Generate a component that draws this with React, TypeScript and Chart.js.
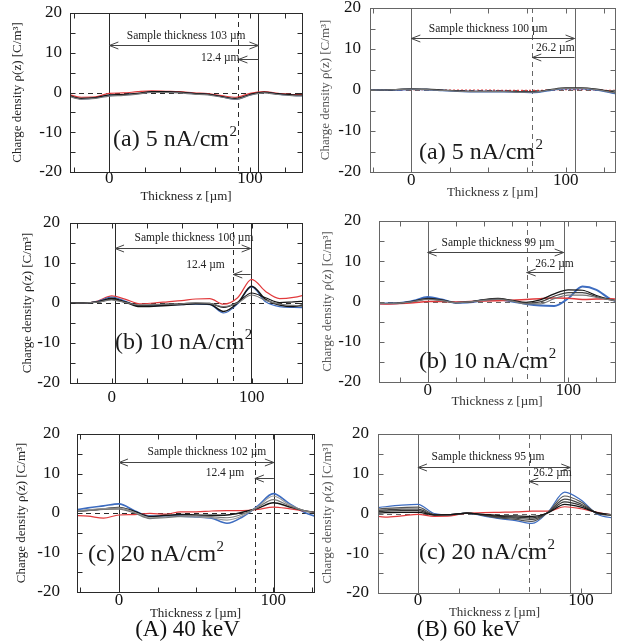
import React, { useEffect, useRef } from "react";
import { Chart, registerables } from "chart.js";
Chart.register(...registerables);

const W = 622;
const H = 643;
const SERIF = '"Liberation Serif", "DejaVu Serif", "Times New Roman", serif';

// ---------- data ----------
const yTickValues = [-20, -10, 0, 10, 20];
const xTickValues = [0, 100];

// (A) 40 keV, (a) 5 nA/cm2
const aaX = [-30, -20, -10, 0, 10, 20, 30, 40, 50, 60, 70, 80, 90, 100, 110, 120, 130, 140];
const aaGray = [-0.8, -1.7, -1.5, -0.9, -0.7, -0.4, 0.0, 0.0, -0.1, -0.4, -0.6, -1.2, -1.7, -0.7, -0.1, -0.5, -0.8, -0.9];
const aaBlack = [-0.6, -1.5, -1.3, -0.6, -0.5, -0.2, 0.2, 0.2, 0.1, -0.2, -0.4, -1.0, -1.5, -0.5, 0.1, -0.3, -0.6, -0.7];
const aaBlue = [-0.7, -1.6, -1.4, -0.7, -0.6, -0.3, 0.1, 0.1, 0.0, -0.3, -0.5, -1.1, -1.7, -0.6, 0.0, -0.4, -0.7, -0.8];
const aaRed = [-0.4, -1.2, -1.1, -0.2, -0.1, 0.2, 0.4, 0.3, 0.2, -0.1, -0.3, -0.8, -1.2, -0.2, 0.2, -0.2, -0.5, -0.5];

// (B) 60 keV, (a) 5 nA/cm2
const baX = [-30, -20, -10, 0, 10, 20, 30, 40, 50, 60, 70, 80, 90, 100, 110, 120, 130, 140];
const baGray = [0, 0, 0.1, 0.2, 0.1, -0.1, -0.3, -0.4, -0.4, -0.4, -0.5, -0.5, 0, 0.4, 0.4, 0.1, -0.6, -1.1];
const baBlack = [0, 0, 0.1, 0.3, 0.2, 0, -0.2, -0.3, -0.3, -0.3, -0.4, -0.4, 0.1, 0.5, 0.5, 0.2, -0.4, -0.9];
const baBlue = [0, 0, 0, 0.2, 0.1, -0.1, -0.3, -0.4, -0.4, -0.4, -0.5, -0.6, -0.1, 0.3, 0.3, 0, -0.7, -1.2];
const baRed = [0, 0, 0, 0.1, 0.1, 0, 0, 0, 0, -0.1, -0.1, -0.1, 0, 0.1, 0.1, 0, -0.1, -0.1];

// (A) 40 keV, (b) 10 nA/cm2
const abX = [-40, -30, -20, -10, 0, 10, 20, 30, 40, 50, 60, 70, 80, 90, 100, 110, 120, 130, 140];
const abGray = [0, 0, 0, 0.2, 0.8, 0.1, -0.5, -0.4, -0.3, -0.2, 0, -0.1, -0.9, 0, 2.0, 0.7, -0.3, -0.6, -1.0];
const abBlack2 = [0, 0, 0, 0.2, 0.9, 0.2, -0.6, -0.5, -0.3, -0.2, 0, -0.1, -1.1, 0.2, 2.5, 1.3, 0.1, 0.3, 0.5];
const abBlack1 = [0, 0, 0, 0.3, 1.2, 0.2, -0.9, -0.8, -0.6, -0.4, -0.2, -0.3, -2.1, 0, 4.2, 0.9, -0.5, -0.9, -0.1];
const abBlue = [0, 0, 0, 0.4, 1.5, 0.4, -0.8, -0.7, -0.5, -0.4, -0.3, -0.4, -2.5, -0.2, 4.0, 0.3, -0.9, -1.1, -1.2];
const abRed = [0, 0, 0, 0.5, 1.8, 0.9, -0.2, 0, 0.3, 0.6, 1.0, 1.1, -0.3, 1.3, 5.9, 2.9, 1.1, 1.4, 2.2];

// (B) 60 keV, (b) 10 nA/cm2
const bbX = [-40, -30, -20, -10, 0, 10, 20, 30, 40, 50, 60, 70, 80, 90, 100, 110, 120, 130, 140];
const bbBlack3 = [-0.4, -0.5, -0.4, 0, 0.5, 0.2, -0.3, -0.1, 0.3, 0.5, 0.1, -0.6, -0.6, 0.7, 1.6, 1.6, 1.0, 0.4, -0.2];
const bbBlack2 = [-0.4, -0.5, -0.4, 0, 0.6, 0.3, -0.3, -0.1, 0.4, 0.7, 0.2, -0.4, -0.1, 1.3, 2.2, 2.2, 1.2, 0.4, -0.2];
const bbBlack1 = [-0.4, -0.5, -0.4, 0.1, 0.8, 0.4, -0.3, -0.1, 0.5, 0.8, 0.3, -0.2, 0.4, 1.9, 2.9, 2.8, 1.5, 0.5, -0.3];
const bbRed = [-0.5, -0.6, -0.5, -0.3, 0, 0, -0.1, 0, 0.1, 0.2, 0.3, 0.5, 0.7, 0.9, 0.8, 0.5, 0.6, 0.7, 0.4];
const bbBlue = [-0.4, -0.5, -0.4, 0.2, 1.1, 0.5, -0.3, -0.2, 0.3, 0.5, 0, -0.6, -1.0, -1.1, 0.8, 3.7, 2.9, 0.6, -0.5];

// (A) 40 keV, (c) 20 nA/cm2
const acX = [-30, -20, -10, 0, 10, 20, 30, 40, 50, 60, 70, 80, 90, 100, 110, 120, 130];
const acGray2 = [0.3, 0.6, 0.9, 1.0, 0, -1.4, -1.2, -0.8, -0.7, -0.9, -1.2, -0.3, 1.4, 3.4, 1.9, 0.6, 0];
const acGray1 = [0.4, 0.8, 1.1, 1.3, 0.2, -1.2, -1.0, -0.9, -1.0, -1.2, -1.8, -0.7, 1.6, 4.3, 2.2, 0.5, -0.5];
const acBlack = [0.3, 0.7, 1.0, 1.4, 0.4, -0.9, -0.6, -0.4, -0.5, -0.6, -0.5, 0.2, 1.2, 2.6, 1.6, 0.6, 0];
const acRed = [-0.6, -0.8, -1.3, -0.5, -0.4, -0.1, -0.3, 0.3, 0.3, 0.5, 0.6, 0.6, 0.9, 1.5, 1.1, 0.5, 0];
const acBlue = [0.7, 1.3, 1.8, 2.3, 0.6, -0.8, -0.8, -0.8, -1.0, -1.3, -2.6, -1.0, 1.8, 4.9, 2.5, 0.2, -1.2];

// (B) 60 keV, (c) 20 nA/cm2
const bcX = [-30, -20, -10, 0, 10, 20, 30, 40, 50, 60, 70, 80, 90, 100, 110, 120, 130];
const bcK4 = [0, 0.2, 0.3, 0.3, -0.4, -0.3, 0.1, -0.2, -0.5, -0.6, -0.7, 0.2, 2.3, 1.6, 0.2, -0.3, -0.4];
const bcK3 = [0.3, 0.6, 0.7, 0.7, -0.3, -0.3, 0.1, -0.3, -0.7, -0.9, -1.1, 0.3, 2.9, 2.0, 0.1, -0.3, -0.4];
const bcK2 = [0.6, 0.9, 1.1, 1.1, -0.3, -0.3, 0.1, -0.4, -0.9, -1.2, -1.5, 0.3, 3.6, 2.4, 0.1, -0.4, -0.5];
const bcK1 = [0.9, 1.3, 1.5, 1.6, -0.2, -0.3, 0.1, -0.5, -1.1, -1.5, -2.0, 0.4, 4.4, 2.9, 0, -0.5, -0.6];
const bcRed = [-0.4, -0.9, -0.6, -0.2, -0.7, -0.6, 0.1, 0.2, 0.3, 0.4, 0.6, 0.6, 1.7, 1.2, 0.3, -0.3, -0.3];
const bcBlue = [1.2, 1.7, 2.1, 2.3, 0, -0.3, 0.1, -0.6, -1.3, -1.8, -2.5, 0.5, 5.4, 3.4, -0.2, -1.1, -1.3];

// ---------- styles ----------
const BLACK = "#151515";
const GRAY = "#777777";
const BLUE = "#3d6cc0";
const RED = "#e23a3c";

type Series = { values: number[]; color: string; width?: number; dash?: number[] };
type Panel = {
  key: string;
  area: { l: number; t: number; r: number; b: number };
  xMin: number;
  xMax: number;
  xMinorStep: number;
  yTitleX: number;
  xTitleY: number | null;
  yGap: number;
  xPad: number;
  xs: number[];
  series: Series[];
  sampleStart: number;
  sampleEnd: number;
  dashedAt: number;
  sampleLabel: string;
  sampleTextX: number;
  sampleTextY: number;
  sampleArrowY: number;
  depthLabel: string;
  depthTextX: number;
  depthTextY: number;
  depthArrowY: number;
  title: string;
  titleX: number;
  titleY: number;
  frameColor: string;
  textColor: string;
  caption?: { text: string; x: number; y: number };
};

const panels: Panel[] = [
  {
    key: "Aa", area: { l: 70, t: 13, r: 302, b: 172 }, xMin: -28, xMax: 137, xMinorStep: 25,
    yTitleX: 18, xTitleY: 196.7, yGap: 8, xPad: -3.4, xs: aaX,
    series: [
      { values: aaGray, color: GRAY }, { values: aaBlack, color: BLACK },
      { values: aaBlue, color: BLUE }, { values: aaRed, color: RED },
    ],
    sampleStart: 0, sampleEnd: 106, dashedAt: 91.8,
    sampleLabel: "Sample thickness 103 µm", sampleTextX: 54.6, sampleTextY: 14.2, sampleArrowY: 11.95,
    depthLabel: "12.4 µm", depthTextX: 78.8, depthTextY: 8.7, depthArrowY: 8.35,
    title: "(a) 5 nA/cm", titleX: 2.6, titleY: -11.95, frameColor: "#2a2a2a", textColor: "#222",
  },
  {
    key: "Ba", area: { l: 370, t: 8, r: 615, b: 172 }, xMin: -26.8, xMax: 132, xMinorStep: 25,
    yTitleX: 326, xTitleY: 192.7, yGap: 9, xPad: -1.4, xs: baX,
    series: [
      { values: baGray, color: GRAY }, { values: baBlack, color: BLACK },
      { values: baBlue, color: BLUE, width: 1.6 }, { values: baRed, color: RED, dash: [2, 2] },
    ],
    sampleStart: 0, sampleEnd: 105.8, dashedAt: 78.4,
    sampleLabel: "Sample thickness 100 µm", sampleTextX: 49.8, sampleTextY: 14.9, sampleArrowY: 12.7,
    depthLabel: "26.2 µm", depthTextX: 93.3, depthTextY: 10.2, depthArrowY: 8.0,
    title: "(a) 5 nA/cm", titleX: 5, titleY: -15.4, frameColor: "#666", textColor: "#555",
  },
  {
    key: "Ab", area: { l: 70, t: 223, r: 302, b: 383 }, xMin: -29.8, xMax: 136, xMinorStep: 25,
    yTitleX: 28, xTitleY: null, yGap: 10, xPad: 4.3, xs: abX,
    series: [
      { values: abGray, color: GRAY }, { values: abBlack2, color: BLACK },
      { values: abBlack1, color: BLACK, width: 1.5 }, { values: abBlue, color: BLUE },
      { values: abRed, color: RED },
    ],
    sampleStart: 2.4, sampleEnd: 99.3, dashedAt: 86.9,
    sampleLabel: "Sample thickness 100 µm", sampleTextX: 58.8, sampleTextY: 16.25, sampleArrowY: 13.75,
    depthLabel: "12.4 µm", depthTextX: 67, depthTextY: 9.5, depthArrowY: 7.25,
    title: "(b) 10 nA/cm", titleX: 2.4, titleY: -10, frameColor: "#2a2a2a", textColor: "#222",
  },
  {
    key: "Bb", area: { l: 379, t: 221, r: 615, b: 382 }, xMin: -34.6, xMax: 133.2, xMinorStep: 20,
    yTitleX: 328, xTitleY: 401.7, yGap: 18, xPad: -1.4, xs: bbX,
    series: [
      { values: bbBlack3, color: GRAY }, { values: bbBlack2, color: "#444" },
      { values: bbBlack1, color: BLACK }, { values: bbRed, color: RED, width: 1.5 },
      { values: bbBlue, color: BLUE, width: 2 },
    ],
    sampleStart: 0, sampleEnd: 96.7, dashedAt: 70.4,
    sampleLabel: "Sample thickness 99 µm", sampleTextX: 50, sampleTextY: 14.5, sampleArrowY: 12.3,
    depthLabel: "26.2 µm", depthTextX: 90.2, depthTextY: 9.3, depthArrowY: 7.3,
    title: "(b) 10 nA/cm", titleX: -6.2, titleY: -15, frameColor: "#666", textColor: "#555",
  },
  {
    key: "Ac", area: { l: 77, t: 434, r: 314, b: 592 }, xMin: -27.2, xMax: 126.4, xMinorStep: 25,
    yTitleX: 22, xTitleY: 613.3, yGap: 17, xPad: -1.4, xs: acX,
    series: [
      { values: acGray2, color: GRAY }, { values: acGray1, color: "#999" },
      { values: acBlack, color: BLACK, width: 1.5 }, { values: acRed, color: RED },
      { values: acBlue, color: BLUE, width: 1.6 },
    ],
    sampleStart: 0, sampleEnd: 100.4, dashedAt: 88.1,
    sampleLabel: "Sample thickness 102 µm", sampleTextX: 57, sampleTextY: 15.4, sampleArrowY: 12.9,
    depthLabel: "12.4 µm", depthTextX: 68.7, depthTextY: 10.1, depthArrowY: 8.9,
    title: "(c) 20 nA/cm", titleX: -20, titleY: -10.6, frameColor: "#2a2a2a", textColor: "#222",
    caption: { text: "(A) 40 keV", x: 187.5, y: 630 },
  },
  {
    key: "Bc", area: { l: 378, t: 434, r: 611, b: 593 }, xMin: -24.5, xMax: 118.4, xMinorStep: 25,
    yTitleX: 328, xTitleY: 612.7, yGap: 9, xPad: -2.4, xs: bcX,
    series: [
      { values: bcK4, color: BLACK }, { values: bcK3, color: "#333" },
      { values: bcK2, color: "#444" }, { values: bcK1, color: "#555" },
      { values: bcRed, color: RED }, { values: bcBlue, color: BLUE },
    ],
    sampleStart: 0, sampleEnd: 93.4, dashedAt: 68.3,
    sampleLabel: "Sample thickness 95 µm", sampleTextX: 43, sampleTextY: 14.2, sampleArrowY: 11.7,
    depthLabel: "26.2 µm", depthTextX: 82.5, depthTextY: 10.2, depthArrowY: 8.2,
    title: "(c) 20 nA/cm", titleX: 0.6, titleY: -9.9, frameColor: "#666", textColor: "#555",
    caption: { text: "(B) 60 keV", x: 468.5, y: 630 },
  },
];

function seg(ctx: CanvasRenderingContext2D, x0: number, y0: number, x1: number, y1: number) {
  ctx.beginPath();
  ctx.moveTo(x0, y0);
  ctx.lineTo(x1, y1);
  ctx.stroke();
}
const crisp = (v: number) => Math.round(v) + 0.5;

function arrowHead(ctx: CanvasRenderingContext2D, tipX: number, y: number, dir: number) {
  seg(ctx, tipX, y, tipX + dir * 9, y - 3.5);
  seg(ctx, tipX, y, tipX + dir * 9, y + 3.5);
}

function decor(p: Panel) {
  return {
    id: "decor" + p.key,
    beforeDatasetsDraw(chart: any) {
      const { ctx, chartArea: a } = chart;
      const x = chart.scales.x;
      const y = chart.scales.y;
      ctx.save();
      ctx.lineWidth = 1;
      ctx.strokeStyle = p.frameColor;
      ctx.setLineDash([5, 4]);
      const y0 = crisp(y.getPixelForValue(0));
      seg(ctx, a.left, y0, a.right, y0);
      const xd = crisp(x.getPixelForValue(p.dashedAt));
      seg(ctx, xd, a.top, xd, a.bottom);
      ctx.setLineDash([]);
      [p.sampleStart, p.sampleEnd].forEach((v) => {
        const px = crisp(x.getPixelForValue(v));
        seg(ctx, px, a.top, px, a.bottom);
      });
      ctx.restore();
    },
    afterDatasetsDraw(chart: any) {
      const { ctx, chartArea: a } = chart;
      const x = chart.scales.x;
      const y = chart.scales.y;
      ctx.save();
      ctx.lineWidth = 1;
      ctx.strokeStyle = p.frameColor;
      // frame
      const L = crisp(a.left), T = crisp(a.top), R = crisp(a.right), B = crisp(a.bottom);
      ctx.strokeRect(L, T, R - L, B - T);
      // inward ticks
      for (let v = -15; v <= 15; v += 5) {
        const py = crisp(y.getPixelForValue(v));
        seg(ctx, L, py, L + 5, py);
        seg(ctx, R - 5, py, R, py);
      }
      const start = Math.ceil(p.xMin / p.xMinorStep) * p.xMinorStep;
      for (let v = start; v <= p.xMax; v += p.xMinorStep) {
        const px = crisp(x.getPixelForValue(v));
        seg(ctx, px, B, px, B - 5);
        seg(ctx, px, T, px, T + 5);
      }
      // sample thickness arrow
      ctx.strokeStyle = "#444";
      const ya = crisp(y.getPixelForValue(p.sampleArrowY));
      const xs0 = x.getPixelForValue(p.sampleStart);
      const xs1 = x.getPixelForValue(p.sampleEnd);
      seg(ctx, xs0, ya, xs1, ya);
      arrowHead(ctx, xs0, ya, 1);
      arrowHead(ctx, xs1, ya, -1);
      // depth arrow
      const yd = crisp(y.getPixelForValue(p.depthArrowY));
      const xdash = x.getPixelForValue(p.dashedAt);
      seg(ctx, xs1, yd, xdash, yd);
      arrowHead(ctx, xdash, yd, 1);
      // texts
      ctx.fillStyle = "#222";
      ctx.textBaseline = "middle";
      ctx.textAlign = "center";
      ctx.font = `11.5px ${SERIF}`;
      ctx.fillText(p.sampleLabel, x.getPixelForValue(p.sampleTextX), y.getPixelForValue(p.sampleTextY));
      ctx.fillText(p.depthLabel, x.getPixelForValue(p.depthTextX), y.getPixelForValue(p.depthTextY));
      // panel title with superscript
      ctx.fillStyle = "#1a1a1a";
      ctx.textAlign = "left";
      ctx.font = `24px ${SERIF}`;
      const tx = x.getPixelForValue(p.titleX);
      const ty = y.getPixelForValue(p.titleY);
      ctx.fillText(p.title, tx, ty);
      const w = ctx.measureText(p.title).width;
      ctx.font = `15px ${SERIF}`;
      ctx.fillText("2", tx + w + 0.5, ty - 8);
      if (p.caption) {
        ctx.textAlign = "center";
        ctx.font = `23px ${SERIF}`;
        ctx.fillStyle = "#111";
        ctx.fillText(p.caption.text, p.caption.x, p.caption.y);
      }
      ctx.restore();
    },
  };
}

function makeChart(canvas: HTMLCanvasElement, p: Panel) {
  const lh = 13 * 1.2;
  const pl = p.yTitleX - lh / 2;
  const yWidth = p.area.l - pl;
  const xH = p.xTitleY != null ? p.xTitleY + lh / 2 - p.area.b : 30;
  const pb = H - p.area.b - xH;
  const zeroPad = (s: any) => {
    s.paddingLeft = 0;
    s.paddingRight = 0;
    s.paddingTop = 0;
    s.paddingBottom = 0;
  };
  return new Chart(canvas, {
    type: "line",
    data: {
      datasets: p.series.map((s) => ({
        data: p.xs.map((xv, i) => ({ x: xv, y: s.values[i] })),
        borderColor: s.color,
        borderWidth: s.width ?? 1.2,
        borderDash: s.dash ?? [],
        pointRadius: 0,
        fill: false,
        cubicInterpolationMode: "monotone" as const,
      })),
    },
    options: {
      animation: false,
      responsive: false,
      maintainAspectRatio: false,
      events: [],
      layout: {
        padding: { left: pl, top: p.area.t, right: W - p.area.r, bottom: pb },
        autoPadding: false,
      },
      plugins: { legend: { display: false }, tooltip: { enabled: false }, title: { display: false } },
      scales: {
        x: {
          type: "linear",
          position: "bottom",
          min: p.xMin,
          max: p.xMax,
          afterBuildTicks: (s: any) => {
            s.ticks = xTickValues.map((v) => ({ value: v }));
          },
          afterFit: (s: any) => {
            s.height = xH;
            zeroPad(s);
          },
          grid: { display: false, drawTicks: false },
          border: { display: false },
          ticks: {
            padding: p.xPad,
            font: { family: SERIF, size: 17 },
            color: "#111",
            maxRotation: 0,
            autoSkip: false,
            callback: (v: any) => String(v),
          },
          title: {
            display: p.xTitleY != null,
            text: "Thickness z [µm]",
            font: { family: SERIF, size: 13 },
            color: p.textColor === "#555" ? "#333" : "#222",
            padding: 0,
          },
        },
        y: {
          type: "linear",
          position: "left",
          min: -20,
          max: 20,
          afterBuildTicks: (s: any) => {
            s.ticks = yTickValues.map((v) => ({ value: v }));
          },
          afterFit: (s: any) => {
            s.width = yWidth;
            zeroPad(s);
          },
          grid: { display: false, drawTicks: false },
          border: { display: false },
          ticks: {
            padding: p.yGap,
            font: { family: SERIF, size: 17 },
            color: "#111",
            autoSkip: false,
            callback: (v: any) => String(v),
          },
          title: {
            display: true,
            text: "Charge density ρ(z) [C/m³]",
            font: { family: SERIF, size: 13 },
            color: p.textColor,
            padding: 0,
          },
        },
      },
    },
    plugins: [decor(p)],
  } as any);
}

function PanelCanvas({ p }: { p: Panel }) {
  const ref = useRef<HTMLCanvasElement | null>(null);
  useEffect(() => {
    if (!ref.current) return;
    const chart = makeChart(ref.current, p);
    return () => chart.destroy();
  }, [p]);
  return (
    <canvas
      ref={ref}
      width={W}
      height={H}
      style={{ position: "absolute", left: 0, top: 0, width: W, height: H }}
    />
  );
}

export default function App() {
  return (
    <div style={{ position: "absolute", left: 0, top: 0, width: W, height: H, background: "#fff", overflow: "hidden" }}>
      {panels.map((p) => (
        <PanelCanvas key={p.key} p={p} />
      ))}
    </div>
  );
}
